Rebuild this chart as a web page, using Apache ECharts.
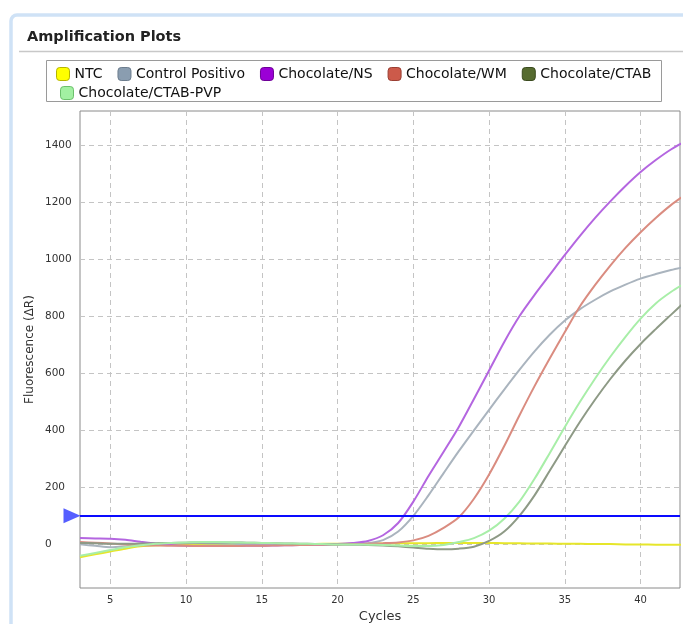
<!DOCTYPE html>
<html>
<head>
<meta charset="utf-8">
<title>Amplification Plots</title>
<script src="https://cdn.jsdelivr.net/npm/echarts@6/dist/echarts.min.js"></script>
<style>
  html, body { margin: 0; padding: 0; background: #fff; }
  #chart { width: 683px; height: 624px; }
</style>
</head>
<body>
<div id="chart"></div>
<script>
// cycles on the x axis
var cycles = [3, 4, 5, 6, 7, 8, 9, 10, 11, 12, 13, 14, 15, 16, 17, 18, 19, 20, 21, 22,
    23, 24, 25, 26, 27, 28, 29, 30, 31, 32, 33, 34, 35, 36, 37, 38, 39, 40, 41, 42, 43];

// fluorescence (delta R) per sample, one value per cycle
var ntc = [-45, -35, -25, -15, -7, -3, -1, 0, 0, 1, 1, 0, 0, 0, 1, 1, 2, 2, 3, 3,
    3, 4, 4, 4, 5, 5, 5, 5, 4, 4, 3, 3, 2, 2, 1, 1, 0, 0, -1, -1, -2];
var controlPositivo = [0, -5, -10, -7, -2, 2, 4, 5, 4, 3, 2, 1, 0, 0, 0, 0, -1, 0, 1, 4,
    15, 45, 100, 172, 250, 327, 400, 472, 543, 612, 677, 735, 785, 825, 858, 887, 911, 932, 948, 962, 974];
var chocolateNS = [22, 21, 20, 16, 9, 3, -2, -5, -6, -6, -6, -5, -5, -4, -3, -2, -1, 1, 5, 12,
    32, 75, 150, 240, 325, 412, 510, 610, 710, 800, 875, 945, 1015, 1082, 1145, 1203, 1257, 1306, 1348, 1385, 1415];
var chocolateWM = [8, 6, 3, 0, -3, -4, -5, -5, -6, -6, -6, -5, -5, -4, -3, -2, -1, 0, 1, 2,
    4, 7, 14, 30, 58, 95, 160, 245, 345, 452, 555, 652, 745, 835, 910, 978, 1040, 1095, 1145, 1190, 1228];
var chocolateCTAB = [5, 4, 2, 2, 3, 4, 5, 6, 7, 7, 7, 6, 5, 4, 3, 2, 1, 0, -1, -2,
    -4, -7, -11, -15, -17, -15, -8, 12, 45, 100, 172, 258, 345, 430, 508, 580, 645, 703, 755, 805, 855];
var chocolateCTABPVP = [-40, -30, -20, -10, -3, 2, 5, 7, 8, 8, 7, 6, 5, 4, 3, 2, 1, 0, 0, -1,
    -2, -4, -6, -6, -2, 8, 22, 48, 90, 150, 230, 320, 412, 500, 582, 658, 728, 792, 845, 885, 918];

var threshold = 100;
var xTicks = [5, 10, 15, 20, 25, 30, 35, 40];
var yTicks = [0, 200, 400, 600, 800, 1000, 1200, 1400];

var samples = [
    { name: 'NTC', values: ntc, line: '#e6e62a', swatch: '#ffff00', border: '#b5b500' },
    { name: 'Control Positivo', values: controlPositivo, line: '#aab4be', swatch: '#8a9db0', border: '#6c7d8e' },
    { name: 'Chocolate/NS', values: chocolateNS, line: '#b466e0', swatch: '#9b00d6', border: '#6d0096' },
    { name: 'Chocolate/WM', values: chocolateWM, line: '#da8c80', swatch: '#cc5a4a', border: '#9a3e32' },
    { name: 'Chocolate/CTAB', values: chocolateCTAB, line: '#8e9a86', swatch: '#566b30', border: '#3b4b1f' },
    { name: 'Chocolate/CTAB-PVP', values: chocolateCTABPVP, line: '#a8eea8', swatch: '#a2f0a2', border: '#6cc06c' }
];

var font = 'DejaVu Sans';

function legendItem(s) {
    return {
        name: s.name,
        itemStyle: { color: s.swatch, borderColor: s.border, borderWidth: 1 }
    };
}

var series = samples.map(function (s) {
    return {
        name: s.name,
        type: 'line',
        showSymbol: false,
        smooth: 0.3,
        color: s.swatch,
        lineStyle: { color: s.line, width: 2 },
        data: cycles.map(function (c, i) { return [c, s.values[i]]; })
    };
});

// threshold line + the blue marker on the left
series.push({
    name: 'Threshold',
    type: 'scatter',
    clip: false,
    silent: true,
    symbol: 'triangle',
    symbolSize: [15, 17],
    symbolRotate: -90,
    symbolOffset: [-8, 0],
    itemStyle: { color: '#2a36ff' },
    data: [[cycles[0], threshold]],
    markLine: {
        silent: true,
        symbol: ['none', 'none'],
        label: { show: false },
        lineStyle: { color: '#0a0aff', width: 2, type: 'solid' },
        data: [{ yAxis: threshold }]
    },
    z: 5
});

var legendBase = {
    itemWidth: 13, itemHeight: 13, itemGap: 15,
    icon: 'roundRect',
    textStyle: { fontFamily: font, fontSize: 14, color: '#111' }
};

var chart = echarts.init(document.getElementById('chart'));
chart.setOption({
    animation: false,
    backgroundColor: '#fff',
    graphic: [
        {
            type: 'rect', z: -10,
            shape: { x: 11, y: 15, width: 700, height: 650, r: 6 },
            style: { fill: '#fff', stroke: '#cfe2f6', lineWidth: 3.5 }
        },
        {
            type: 'line',
            shape: { x1: 19, y1: 51.5, x2: 683, y2: 51.5 },
            style: { stroke: '#c8c8c8', lineWidth: 1.5 }
        },
        {
            type: 'text', left: 27, top: 30,
            style: { text: 'Amplification Plots', font: 'bold 14.5px "DejaVu Sans"', fill: '#222' }
        },
        {
            type: 'rect',
            shape: { x: 46.5, y: 60.5, width: 615, height: 41 },
            style: { fill: 'none', stroke: '#9a9a9a', lineWidth: 1 }
        }
    ],
    legend: [
        Object.assign({ left: 51, top: 62, data: samples.slice(0, 5).map(legendItem) }, legendBase),
        Object.assign({ left: 55, top: 81, data: samples.slice(5).map(legendItem) }, legendBase)
    ],
    grid: {
        left: 80, top: 111, right: 3, bottom: 36,
        outerBoundsMode: 'none',
        show: true, borderColor: '#8a8a8a', borderWidth: 1, backgroundColor: '#fff'
    },
    xAxis: {
        type: 'value',
        min: 3, max: 42.6,
        name: 'Cycles',
        nameLocation: 'middle',
        nameGap: 18,
        nameTextStyle: { fontFamily: font, fontSize: 13, color: '#333' },
        axisLine: { show: false },
        axisTick: { show: false, customValues: xTicks },
        axisLabel: { customValues: xTicks, fontFamily: font, fontSize: 10, color: '#333', margin: 7 },
        splitLine: { show: true, lineStyle: { color: '#c4c4c4', type: [5, 4] } }
    },
    yAxis: {
        type: 'value',
        min: -153, max: 1520,
        name: 'Fluorescence (\u0394R)',
        nameLocation: 'middle',
        nameGap: 44,
        nameMoveOverlap: false,
        nameTextStyle: { fontFamily: font, fontSize: 12, color: '#333' },
        axisLine: { show: false },
        axisTick: { show: false, customValues: yTicks },
        axisLabel: {
            customValues: yTicks, fontFamily: font, fontSize: 10.5, color: '#333',
            margin: 35, align: 'left',
            formatter: function (v) { return String(v); }
        },
        splitLine: { show: true, lineStyle: { color: '#c4c4c4', type: [5, 4] } }
    },
    series: series
});
</script>
</body>
</html>
